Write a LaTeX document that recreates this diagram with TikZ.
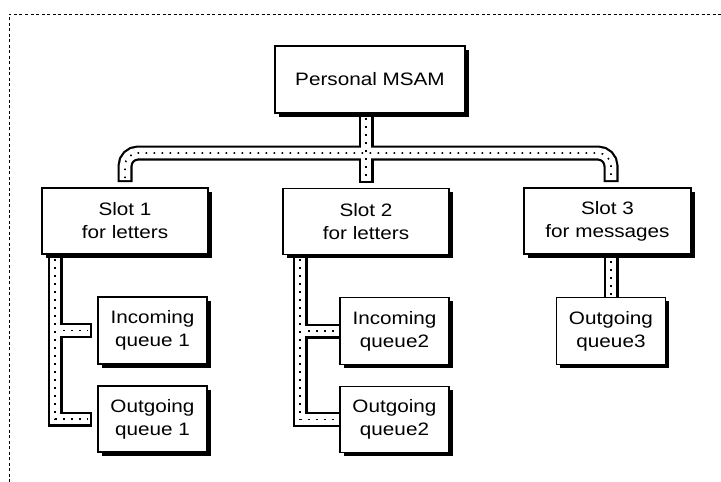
\documentclass[tikz,border=0pt]{standalone}
\usepackage{fontspec}
\setmainfont{Liberation Sans}[FakeStretch=1.15]
\usetikzlibrary{calc,shadows,backgrounds}

\begin{document}
\begin{tikzpicture}[x=1pt,y=-1pt,
  box/.style={draw, line width=1.8pt, fill=white, align=center, inner sep=0pt,
    font=\fontsize{18}{23}\selectfont,
    drop shadow={shadow xshift=3.5pt, shadow yshift=-3.5pt, fill=black, opacity=1}},
  tubeouter/.style={line width=15pt, line join=miter, draw=black},
  tubeinner/.style={line width=10.6pt, line join=miter, draw=white},
  tubedots/.style={line width=1.6pt, dash pattern=on 1.6pt off 6.4pt, draw=black},
  frame/.style={line width=1pt, dash pattern=on 3pt off 2.5pt}]

\useasboundingbox (0,0) rectangle (721,482);

% open dashed frame along the top and left
\draw[frame] (9,482) -- (9,14) -- (721,14);

% boxes
\node[box, minimum width=190pt, minimum height=67pt] (m) at (370,79.5) {Personal MSAM};
\node[box, minimum width=166pt, minimum height=66pt] (s1) at (125,221) {Slot 1\\for letters};
\node[box, minimum width=166pt, minimum height=66pt] (s2) at (366,221.5) {Slot 2\\for letters};
\node[box, minimum width=167pt, minimum height=66pt] (s3) at (607.5,221) {Slot 3\\for messages};
\node[box, minimum width=109pt, minimum height=67pt] (i1) at (152.5,330.5) {Incoming\\queue 1};
\node[box, minimum width=109pt, minimum height=66pt] (o1) at (152.5,419) {Outgoing\\queue 1};
\node[box, minimum width=109pt, minimum height=67pt] (i2) at (394.5,331) {Incoming\\queue2};
\node[box, minimum width=109pt, minimum height=66pt] (o2) at (394.5,419.5) {Outgoing\\queue2};
\node[box, minimum width=109pt, minimum height=67pt] (o3) at (611,331) {Outgoing\\queue3};

% tube network, drawn behind the boxes
\coordinate (bus) at (0,153);
\coordinate (t1) at ($(s1.south west)+(14,0)$);
\coordinate (t2) at ($(s2.south west)+(18,0)$);
\coordinate (b1) at ($(s1.north)+(0,-5)$);
\coordinate (b2) at ($(s2.north)+(0,-5)$);
\coordinate (b3) at ($(o3.north |- s3.north)+(0,-5)$);

\begin{scope}[on background layer]
  % outer black walls
  \draw[tubeouter, rounded corners=13pt] (b1) -- (b1 |- bus) -- (b3 |- bus) -- (b3);
  \draw[tubeouter] (b2 |- m.south) -- (b2);
  \draw[tubeouter] (t1) -- (t1 |- o1.west) -- ($(o1.west)+(-5,0)$);
  \draw[tubeouter] (t1 |- i1.west) -- ($(i1.west)+(-5,0)$);
  \draw[tubeouter] (t2) -- (t2 |- o2.west) -- (o2.west);
  \draw[tubeouter] (t2 |- i2.west) -- (i2.west);
  \draw[tubeouter] (o3.north |- s3.south) -- (o3.north);
  % white interior
  \draw[tubeinner, rounded corners=13pt, shorten <=2pt, shorten >=2pt] (b1) -- (b1 |- bus) -- (b3 |- bus) -- (b3);
  \draw[tubeinner, shorten >=2pt] (b2 |- m.south) -- (b2);
  \draw[tubeinner, shorten >=2pt] (t1) -- (t1 |- o1.west) -- ($(o1.west)+(-5,0)$);
  \draw[tubeinner, shorten >=2pt] (t1 |- i1.west) -- ($(i1.west)+(-5,0)$);
  \draw[tubeinner] (t2) -- (t2 |- o2.west) -- (o2.west);
  \draw[tubeinner] (t2 |- i2.west) -- (i2.west);
  \draw[tubeinner] (o3.north |- s3.south) -- (o3.north);
  % dotted fill
  \draw[tubedots, rounded corners=13pt, shorten <=4pt, shorten >=4pt] (b1) -- (b1 |- bus) -- (b3 |- bus) -- (b3);
  \draw[tubedots, shorten <=4pt, shorten >=4pt] (b2 |- m.south) -- (b2);
  \draw[tubedots, shorten <=4pt, shorten >=4pt] (t1) -- (t1 |- o1.west) -- ($(o1.west)+(-5,0)$);
  \draw[tubedots, shorten <=8pt, shorten >=4pt] (t1 |- i1.west) -- ($(i1.west)+(-5,0)$);
  \draw[tubedots, shorten <=4pt, shorten >=4pt] (t2) -- (t2 |- o2.west) -- (o2.west);
  \draw[tubedots, shorten <=8pt, shorten >=4pt] (t2 |- i2.west) -- (i2.west);
  \draw[tubedots, shorten <=6pt, shorten >=2pt] (o3.north |- s3.south) -- (o3.north);
\end{scope}
\end{tikzpicture}
\end{document}
